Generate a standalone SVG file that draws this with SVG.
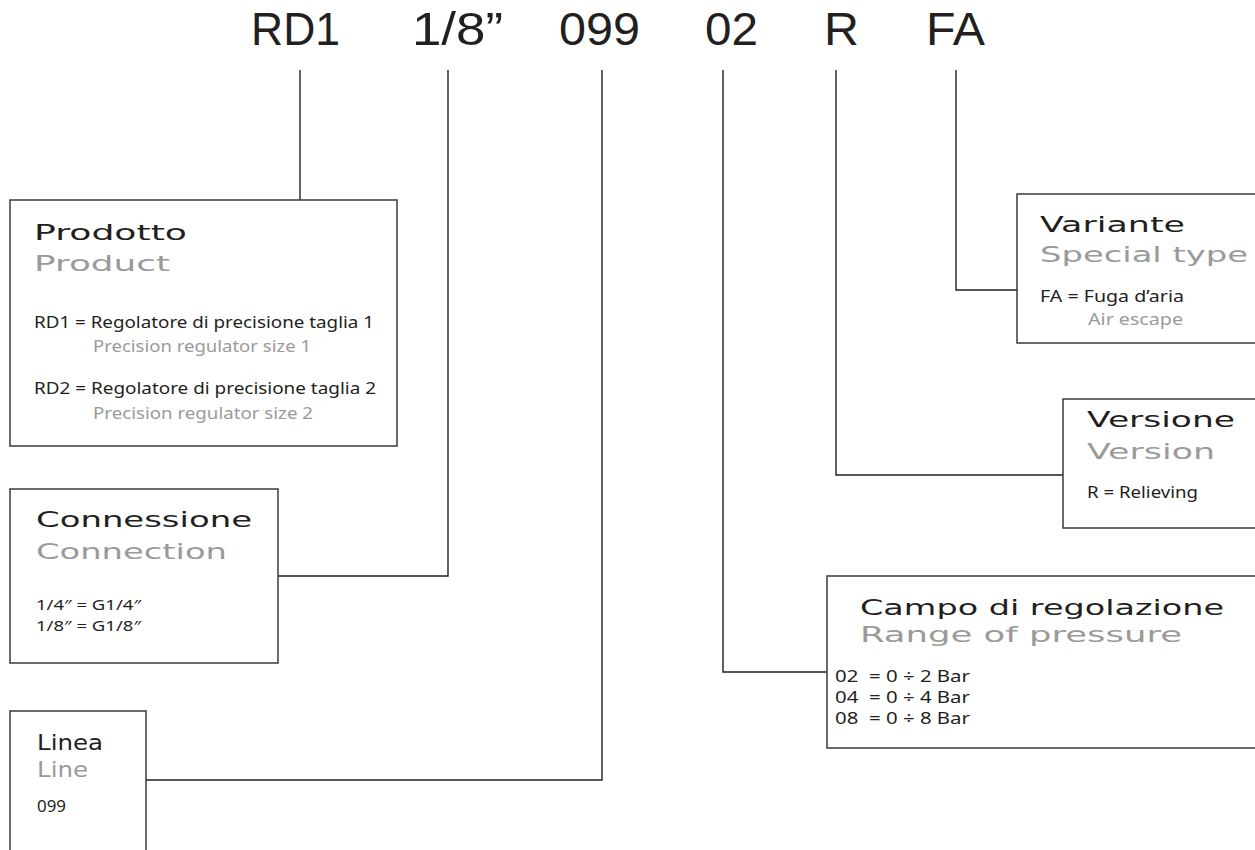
<svg xmlns="http://www.w3.org/2000/svg" width="1255" height="850" viewBox="0 0 1255 850">
<style>
.hdr{font-family:"Liberation Sans",Arial,sans-serif;font-size:46px;fill:#231f20}
.ttl{font-family:"DejaVu Sans","Liberation Sans",sans-serif;font-size:22px;fill:#231f20}
.sub{font-family:"DejaVu Sans","Liberation Sans",sans-serif;font-size:22px;fill:#9a9a9a}
.txt{font-family:"Noto Sans","Open Sans",sans-serif;font-size:16.5px;fill:#231f20}
.sm{font-size:15px}
.gry{font-family:"Noto Sans","Open Sans",sans-serif;font-size:16.5px;fill:#9a9a9a}
.box{fill:#fff;stroke:#3a3a3a;stroke-width:1.5}
.con{fill:none;stroke:#231f20;stroke-width:1.4}
</style>
<rect width="1255" height="850" fill="#fff"/>
<g id="header">
<text class="hdr" x="251" y="45" textLength="89" lengthAdjust="spacingAndGlyphs">RD1</text>
<text class="hdr" x="412" y="45" textLength="91" lengthAdjust="spacingAndGlyphs">1/8”</text>
<text class="hdr" x="559" y="45" textLength="81" lengthAdjust="spacingAndGlyphs">099</text>
<text class="hdr" x="705" y="45" textLength="53" lengthAdjust="spacingAndGlyphs">02</text>
<text class="hdr" x="824" y="45" textLength="35" lengthAdjust="spacingAndGlyphs">R</text>
<text class="hdr" x="926" y="45" textLength="59" lengthAdjust="spacingAndGlyphs">FA</text>
</g>
<g id="connectors">
<path class="con" d="M300,70 V200"/>
<path class="con" d="M448,70 V576 H278"/>
<path class="con" d="M602,70 V780 H146"/>
<path class="con" d="M723,70 V672 H827"/>
<path class="con" d="M836,70 V475 H1063"/>
<path class="con" d="M956,70 V290 H1017"/>
</g>
<g id="prodotto">
<rect class="box" x="10" y="200" width="387" height="246"/>
<text class="ttl" x="34" y="240" textLength="153" lengthAdjust="spacingAndGlyphs">Prodotto</text>
<text class="sub" x="34" y="271" textLength="136" lengthAdjust="spacingAndGlyphs">Product</text>
<text class="txt" x="34" y="328" textLength="340" lengthAdjust="spacingAndGlyphs">RD1 = Regolatore di precisione taglia 1</text>
<text class="gry" x="93" y="352" textLength="218" lengthAdjust="spacingAndGlyphs">Precision regulator size 1</text>
<text class="txt" x="34" y="394" textLength="342" lengthAdjust="spacingAndGlyphs">RD2 = Regolatore di precisione taglia 2</text>
<text class="gry" x="93" y="419" textLength="220" lengthAdjust="spacingAndGlyphs">Precision regulator size 2</text>
</g>
<g id="connessione">
<rect class="box" x="10" y="489" width="268" height="174"/>
<text class="ttl" x="36" y="527" textLength="216" lengthAdjust="spacingAndGlyphs">Connessione</text>
<text class="sub" x="36" y="559" textLength="191" lengthAdjust="spacingAndGlyphs">Connection</text>
<text class="txt sm" x="36" y="610" textLength="105" lengthAdjust="spacingAndGlyphs">1/4″ = G1/4″</text>
<text class="txt sm" x="36" y="631" textLength="105" lengthAdjust="spacingAndGlyphs">1/8″ = G1/8″</text>
</g>
<g id="linea">
<rect class="box" x="10" y="711" width="136" height="150"/>
<text class="ttl" x="37" y="750" textLength="66" lengthAdjust="spacingAndGlyphs">Linea</text>
<text class="sub" x="37" y="777" textLength="51" lengthAdjust="spacingAndGlyphs">Line</text>
<text class="txt" x="37" y="812" textLength="29" lengthAdjust="spacingAndGlyphs">099</text>
</g>
<g id="variante">
<rect class="box" x="1017" y="194" width="250" height="149"/>
<text class="ttl" x="1040" y="232" textLength="145" lengthAdjust="spacingAndGlyphs">Variante</text>
<text class="sub" x="1040" y="262" textLength="208" lengthAdjust="spacingAndGlyphs">Special type</text>
<text class="txt" x="1040" y="302" textLength="144" lengthAdjust="spacingAndGlyphs">FA = Fuga d’aria</text>
<text class="gry" x="1088" y="325" textLength="95" lengthAdjust="spacingAndGlyphs">Air escape</text>
</g>
<g id="versione">
<rect class="box" x="1063" y="399" width="210" height="129"/>
<text class="ttl" x="1087" y="427" textLength="148" lengthAdjust="spacingAndGlyphs">Versione</text>
<text class="sub" x="1087" y="459" textLength="128" lengthAdjust="spacingAndGlyphs">Version</text>
<text class="txt" x="1087" y="498" textLength="111" lengthAdjust="spacingAndGlyphs">R = Relieving</text>
</g>
<g id="campo">
<rect class="box" x="827" y="576" width="440" height="172"/>
<text class="ttl" x="860" y="615" textLength="364" lengthAdjust="spacingAndGlyphs">Campo di regolazione</text>
<text class="sub" x="860" y="642" textLength="322" lengthAdjust="spacingAndGlyphs">Range of pressure</text>
<text class="txt" x="835" y="682" textLength="135" lengthAdjust="spacingAndGlyphs">02&#160; = 0 ÷ 2 Bar</text>
<text class="txt" x="835" y="703" textLength="135" lengthAdjust="spacingAndGlyphs">04&#160; = 0 ÷ 4 Bar</text>
<text class="txt" x="835" y="724" textLength="135" lengthAdjust="spacingAndGlyphs">08&#160; = 0 ÷ 8 Bar</text>
</g>
</svg>
